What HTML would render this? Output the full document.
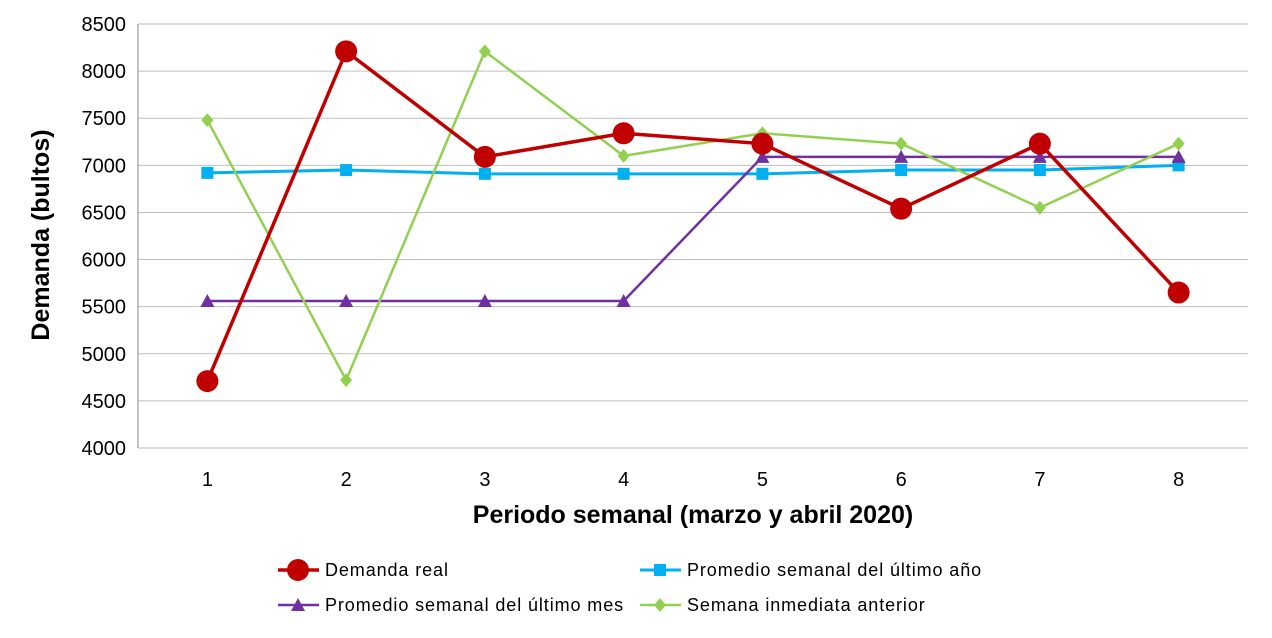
<!DOCTYPE html>
<html><head><meta charset="utf-8"><style>
body{margin:0;background:#fff;}
svg text{font-family:"Liberation Sans",Arial,sans-serif;}
</style></head><body>
<svg id="chart" width="1272" height="633" xmlns="http://www.w3.org/2000/svg"></svg>
<script>
const categories=[1,2,3,4,5,6,7,8];
const yTicks=[4000,4500,5000,5500,6000,6500,7000,7500,8000,8500];
const demandaReal=[4710,8210,7090,7340,7230,6540,7230,5650];
const promedioAnio=[6920,6950,6910,6910,6910,6950,6950,7000];
const promedioMes=[5560,5560,5560,5560,7090,7090,7090,7090];
const semanaAnterior=[7480,4720,8210,7100,7340,7230,6550,7230];

const svg=document.getElementById('chart');
const NS='http://www.w3.org/2000/svg';
const L=138,R=1248,T=24,B=448,ymin=4000,ymax=8500;
const xs=i=>L+(R-L)/categories.length*(i+0.5);
const ys=v=>B-(v-ymin)/(ymax-ymin)*(B-T);
function mk(tag,attrs,parent){const e=document.createElementNS(NS,tag);for(const k in attrs)e.setAttribute(k,attrs[k]);(parent||svg).appendChild(e);return e;}

yTicks.forEach(v=>{
  const g=mk('line',{x1:L,x2:R,y1:ys(v),y2:ys(v),stroke:'#bfbfbf','stroke-width':1});
  
  
  const t=mk('text',{x:L-12,y:ys(v)+7,'text-anchor':'end','font-size':20,fill:'#000'});
  t.textContent=v;
  
  
});
const ax=mk('line',{x1:L,x2:L,y1:T,y2:B,stroke:'#888'});


categories.forEach((c,i)=>{
  const t=mk('text',{x:xs(i),y:486,'text-anchor':'middle','font-size':20});
  t.textContent=c;
  
  
});
const yt=mk('text',{x:49,y:235,'text-anchor':'middle','font-size':25,'font-weight':'bold',transform:'rotate(-90 49 235)'});
yt.textContent='Demanda (bultos)';


const xt=mk('text',{x:693,y:523,'text-anchor':'middle','font-size':25,'font-weight':'bold'});
xt.textContent='Periodo semanal (marzo y abril 2020)';



function marker(shape,x,y,color,parent){
  if(shape==='circle')return mk('circle',{cx:x,cy:y,r:11,fill:color},parent);
  if(shape==='square')return mk('rect',{x:x-6,y:y-6,width:12,height:12,fill:color},parent);
  if(shape==='tri')return mk('polygon',{points:`${x},${y-7} ${x-7},${y+6} ${x+7},${y+6}`,fill:color},parent);
  return mk('polygon',{points:`${x},${y-7} ${x+6},${y} ${x},${y+7} ${x-6},${y}`,fill:color},parent);
}
const series=[
  {name:'promedio-anio',data:promedioAnio,color:'#00b0f0',shape:'square',w:3},
  {name:'promedio-mes',data:promedioMes,color:'#7030a0',shape:'tri',w:2.5},
  {name:'semana-anterior',data:semanaAnterior,color:'#92d050',shape:'diamond',w:2.5},
  {name:'demanda-real',data:demandaReal,color:'#c00000',shape:'circle',w:3.5}
];
series.forEach(s=>{
  const g=mk('g',{});
  
  
  const p=mk('polyline',{points:s.data.map((v,i)=>xs(i)+','+ys(v)).join(' '),fill:'none',stroke:s.color,'stroke-width':s.w},g);
  
  
  s.data.forEach((v,i)=>{
    const m=marker(s.shape,xs(i),ys(v),s.color,g);
    
    
  });
});
const legend=[
  {label:'Demanda real',color:'#c00000',shape:'circle',x:278,y:570,w:3.5},
  {label:'Promedio semanal del último año',color:'#00b0f0',shape:'square',x:640,y:570,w:3},
  {label:'Promedio semanal del último mes',color:'#7030a0',shape:'tri',x:278,y:605,w:2.5},
  {label:'Semana inmediata anterior',color:'#92d050',shape:'diamond',x:640,y:605,w:2.5}
];
legend.forEach(l=>{
  const g=mk('g',{});
  
  
  mk('line',{x1:l.x,x2:l.x+41,y1:l.y,y2:l.y,stroke:l.color,'stroke-width':l.w},g);
  marker(l.shape,l.x+20,l.y,l.color,g);
  const t=mk('text',{x:l.x+47,y:l.y+6,'font-size':18,'letter-spacing':0.9},g);
  t.textContent=l.label;
});
</script>
</body></html>
